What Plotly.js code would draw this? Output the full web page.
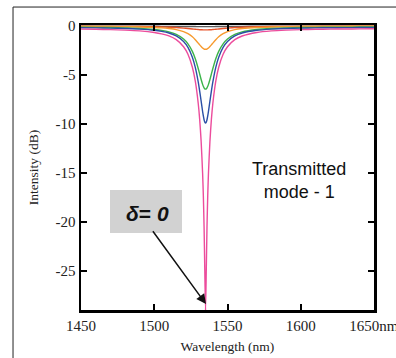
<!DOCTYPE html>
<html>
<head>
<meta charset="utf-8">
<script src="https://cdn.plot.ly/plotly-3.0.1.min.js"></script>
<style>
  html, body { margin: 0; padding: 0; background: #ffffff; }
  #chart { width: 396px; height: 358px; }
</style>
</head>
<body>
<div id="chart"></div>
<script>
// Wavelength samples (nm)
const wavelength = [1450,1460,1470,1480,1490,1500,1505,1510,1515,1520,1523,1526,1528,1530,1531,1532,1533,1533.5,1534,1534.5,1535,1535.5,1536,1536.5,1537,1538,1539,1540,1542,1544,1547,1550,1555,1560,1570,1580,1590,1600,1610,1620,1630,1640,1650];

// Intensity (dB)
const grayCurve   = [-0.02,-0.02,-0.02,-0.02,-0.03,-0.03,-0.04,-0.04,-0.05,-0.05,-0.06,-0.06,-0.06,-0.07,-0.07,-0.07,-0.07,-0.07,-0.07,-0.07,-0.07,-0.07,-0.07,-0.07,-0.07,-0.07,-0.07,-0.07,-0.06,-0.06,-0.06,-0.05,-0.05,-0.04,-0.03,-0.03,-0.02,-0.02,-0.02,-0.02,-0.02,-0.02,-0.02];
const redCurve    = [-0.03,-0.04,-0.04,-0.05,-0.06,-0.08,-0.10,-0.13,-0.16,-0.22,-0.26,-0.31,-0.34,-0.36,-0.38,-0.39,-0.39,-0.40,-0.40,-0.40,-0.40,-0.40,-0.40,-0.40,-0.39,-0.39,-0.38,-0.36,-0.34,-0.31,-0.26,-0.22,-0.16,-0.13,-0.08,-0.06,-0.05,-0.04,-0.04,-0.03,-0.03,-0.03,-0.02];
const orangeCurve = [-0.04,-0.05,-0.06,-0.07,-0.10,-0.15,-0.19,-0.26,-0.37,-0.58,-0.79,-1.10,-1.40,-1.75,-1.93,-2.10,-2.25,-2.30,-2.35,-2.37,-2.38,-2.37,-2.35,-2.30,-2.25,-2.10,-1.93,-1.75,-1.40,-1.10,-0.79,-0.58,-0.37,-0.26,-0.15,-0.10,-0.07,-0.06,-0.05,-0.04,-0.04,-0.03,-0.03];
const greenCurve  = [-0.13,-0.14,-0.16,-0.20,-0.25,-0.36,-0.45,-0.60,-0.86,-1.33,-1.82,-2.59,-3.35,-4.34,-4.90,-5.46,-5.96,-6.16,-6.32,-6.42,-6.45,-6.42,-6.32,-6.16,-5.96,-5.46,-4.90,-4.34,-3.35,-2.59,-1.82,-1.33,-0.86,-0.60,-0.36,-0.25,-0.20,-0.16,-0.14,-0.13,-0.12,-0.11,-0.11];
const blueCurve   = [-0.18,-0.19,-0.22,-0.25,-0.32,-0.44,-0.55,-0.72,-1.02,-1.59,-2.19,-3.19,-4.23,-5.71,-6.65,-7.68,-8.73,-9.19,-9.57,-9.81,-9.90,-9.81,-9.57,-9.19,-8.73,-7.68,-6.65,-5.71,-4.23,-3.19,-2.19,-1.59,-1.02,-0.72,-0.44,-0.32,-0.25,-0.22,-0.19,-0.18,-0.17,-0.16,-0.15];
const pinkCurve   = [-0.32,-0.34,-0.37,-0.42,-0.50,-0.66,-0.80,-1.02,-1.40,-2.12,-2.89,-4.21,-5.64,-7.89,-9.54,-11.78,-15.03,-17.34,-20.47,-24.96,-29.04,-24.96,-20.47,-17.34,-15.03,-11.78,-9.54,-7.89,-5.64,-4.21,-2.89,-2.12,-1.40,-1.02,-0.66,-0.50,-0.42,-0.37,-0.34,-0.32,-0.31,-0.30,-0.29];

const xTickVals = [1450,1500,1550,1600,1650];
const xTickText = ['1450','1500','1550','1600','1650nm'];
const yTickVals = [0,-5,-10,-15,-20,-25];
const yTickText = ['0','-5','-10','-15','-20','-25'];

const series = [
  {y: grayCurve,   color: '#5a5a5a'},
  {y: redCurve,    color: '#e8542c'},
  {y: orangeCurve, color: '#f79a2e'},
  {y: greenCurve,  color: '#3cb44a'},
  {y: blueCurve,   color: '#2b4fa6'},
  {y: pinkCurve,   color: '#ec4c9c'}
];

const traces = series.map(s => ({
  x: wavelength, y: s.y, type: 'scatter', mode: 'lines',
  line: {color: s.color, width: 1.4, shape: 'spline', smoothing: 0.6},
  hoverinfo: 'skip', showlegend: false, cliponaxis: true
}));

const serif = "'Liberation Serif', 'Times New Roman', Times, serif";
const sans = "'Liberation Sans', Arial, sans-serif";

const axisCommon = {
  showline: true, linecolor: '#000', linewidth: 2.5, mirror: 'ticks',
  ticks: 'inside', ticklen: 6, tickwidth: 2, tickcolor: '#000',
  showgrid: false, zeroline: false,
  tickfont: {family: serif, size: 15, color: '#222'}
};

const layout = {
  width: 396, height: 358,
  margin: {l: 81, r: 22, t: 25, b: 48},
  paper_bgcolor: '#ffffff', plot_bgcolor: '#ffffff',
  xaxis: Object.assign({}, axisCommon, {
    range: [1449.95, 1650.05], tickmode: 'array', tickvals: xTickVals, ticktext: xTickText,
    ticklabeloverflow: 'allow',
    title: {text: 'Wavelength (nm)', font: {family: serif, size: 13.5, color: '#222'}, standoff: 9}
  }),
  yaxis: Object.assign({}, axisCommon, {
    range: [-29, 0.1], tickmode: 'array', tickvals: yTickVals, ticktext: yTickText,
    title: {text: 'Intensity (dB)', font: {family: serif, size: 13.5, color: '#222'}, standoff: 14}
  }),
  shapes: [
    {type: 'line', xref: 'paper', yref: 'paper', x0: -0.232, x1: 1.08, y0: 1.063, y1: 1.063, line: {color: '#222', width: 1}},
    {type: 'line', xref: 'paper', yref: 'paper', x0: -0.232, x1: -0.232, y0: 1.063, y1: -0.2, line: {color: '#222', width: 1}},
    {type: 'rect', xref: 'paper', yref: 'paper', x0: (110-81)/293, x1: (182-81)/293, y0: (310-233)/285, y1: (310-190)/285, fillcolor: '#d2d2d2', line: {width: 0}, layer: 'below'}
  ],
  annotations: [
    {xref: 'paper', yref: 'paper', x: (299-81)/293, y: (310-180)/285, xanchor: 'center', yanchor: 'middle',
     text: 'Transmitted<br>mode - 1', showarrow: false, align: 'center',
     font: {family: sans, size: 18, color: '#111'}},
    {xref: 'paper', yref: 'paper', x: (147-81)/293, y: (310-213)/285, xanchor: 'center', yanchor: 'middle',
     text: '<b><i>δ</i>= <i>0</i></b>', showarrow: false,
     font: {family: sans, size: 21, color: '#111'}},
    {x: 1535.3, y: -28.4, xref: 'x', yref: 'y', axref: 'x', ayref: 'y', ax: 1498.3, ay: -20.8,
     text: '', showarrow: true, arrowhead: 2, arrowsize: 1.3, arrowwidth: 1.5, arrowcolor: '#111', standoff: 0}
  ]
};

Plotly.newPlot('chart', traces, layout, {staticPlot: true, displayModeBar: false});
</script>
</body>
</html>
